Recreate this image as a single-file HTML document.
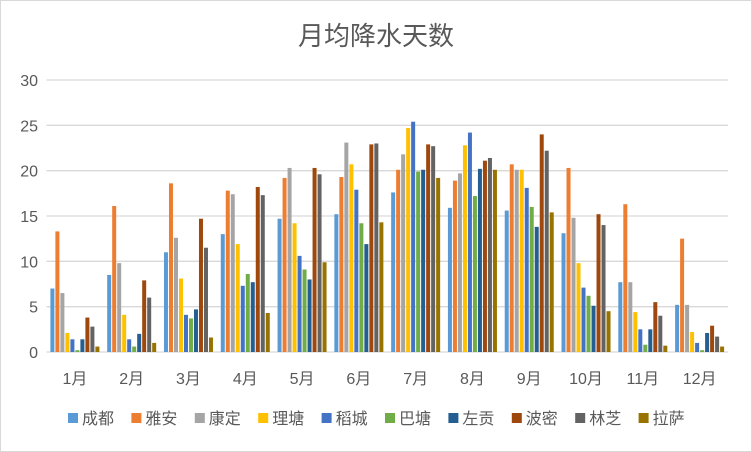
<!DOCTYPE html>
<html><head><meta charset="utf-8"><style>
body{margin:0;background:#fff}
svg{display:block;font-family:"Liberation Sans","Noto Sans CJK SC",sans-serif}
</style></head><body>
<svg id="c" width="752" height="452">
<rect x="0.5" y="0.5" width="751" height="451" fill="#fff" stroke="#d9d9d9"/>
<text x="376" y="45" text-anchor="middle" font-size="26" fill="#595959">月均降水天数</text>
<g id="grid"></g><g id="bars"></g><g id="legend"></g>
</svg>
<script>
const categories=["1月","2月","3月","4月","5月","6月","7月","8月","9月","10月","11月","12月"];
const seriesNames=["成都","雅安","康定","理塘","稻城","巴塘","左贡","波密","林芝","拉萨"];
const colors=["#5b9bd5","#ed7d31","#a5a5a5","#ffc000","#4472c4","#70ad47","#255e91","#9e480e","#636363","#997300"];
const s0=[7.0,8.5,11.0,13.0,14.7,15.2,17.6,15.9,15.6,13.1,7.7,5.2];
const s1=[13.3,16.1,18.6,17.8,19.2,19.3,20.1,18.9,20.7,20.3,16.3,12.5];
const s2=[6.5,9.8,12.6,17.4,20.3,23.1,21.8,19.7,20.1,14.8,7.7,5.2];
const s3=[2.1,4.1,8.1,11.9,14.2,20.7,24.7,22.8,20.1,9.8,4.4,2.2];
const s4=[1.4,1.4,4.1,7.3,10.6,17.9,25.4,24.2,18.1,7.1,2.5,1.0];
const s5=[0.2,0.6,3.7,8.6,9.1,14.2,19.9,17.2,16.0,6.2,0.8,0.2];
const s6=[1.4,2.0,4.7,7.7,8.0,11.9,20.1,20.2,13.8,5.1,2.5,2.1];
const s7=[3.8,7.9,14.7,18.2,20.3,22.9,22.9,21.1,24.0,15.2,5.5,2.9];
const s8=[2.8,6.0,11.5,17.3,19.6,23.0,22.7,21.4,22.2,14.0,4.0,1.7];
const s9=[0.6,1.0,1.6,4.3,9.9,14.3,19.2,20.1,15.4,4.5,0.7,0.6];
const yTicks=[0,5,10,15,20,25,30];
const series=[s0,s1,s2,s3,s4,s5,s6,s7,s8,s9];
const NS="http://www.w3.org/2000/svg";
const X0=46.5,X1=728,Y0=352,Y1=80,YMAX=30;
const cw=(X1-X0)/categories.length;
const y=v=>Y0-(v/YMAX)*(Y0-Y1);
const xc=i=>X0+cw*(i+0.5);
function mk(t,a,p){const e=document.createElementNS(NS,t);for(const k in a)e.setAttribute(k,a[k]);p.appendChild(e);return e;}
const grid=document.getElementById('grid');
yTicks.forEach(t=>{
 const l=mk('line',{x1:X0,x2:X1,y1:y(t),y2:y(t),stroke:'#d9d9d9','stroke-width':1.3},grid);
 
 
 const tx=mk('text',{x:38,y:y(t)+6,'text-anchor':'end','font-size':16,fill:'#595959'},grid);
 tx.textContent=t;
 
 
});
categories.forEach((c,i)=>{
 const tx=mk('text',{x:xc(i),y:384,'text-anchor':'middle','font-size':16,fill:'#595959'},grid);
 tx.textContent=c;
 
 
});
const bars=document.getElementById('bars');
const step=5,bw=4;
categories.forEach((c,i)=>{
 const start=xc(i)-step*series.length/2+0.5;
 series.forEach((s,j)=>{
  const r=mk('rect',{x:start+j*step,y:y(s[i]),width:bw,height:Y0-y(s[i]),fill:colors[j]},bars);
  
  
 });
});
const lg=document.getElementById('legend');
seriesNames.forEach((n,j)=>{
 const g=mk('g',{},lg);
 
 
 const x=68+j*63.4;
 mk('rect',{x:x,y:413,width:10,height:10,fill:colors[j]},g);
 const t=mk('text',{x:x+14,y:424,'font-size':16,fill:'#595959'},g);
 t.textContent=n;
});
</script>
</body></html>
